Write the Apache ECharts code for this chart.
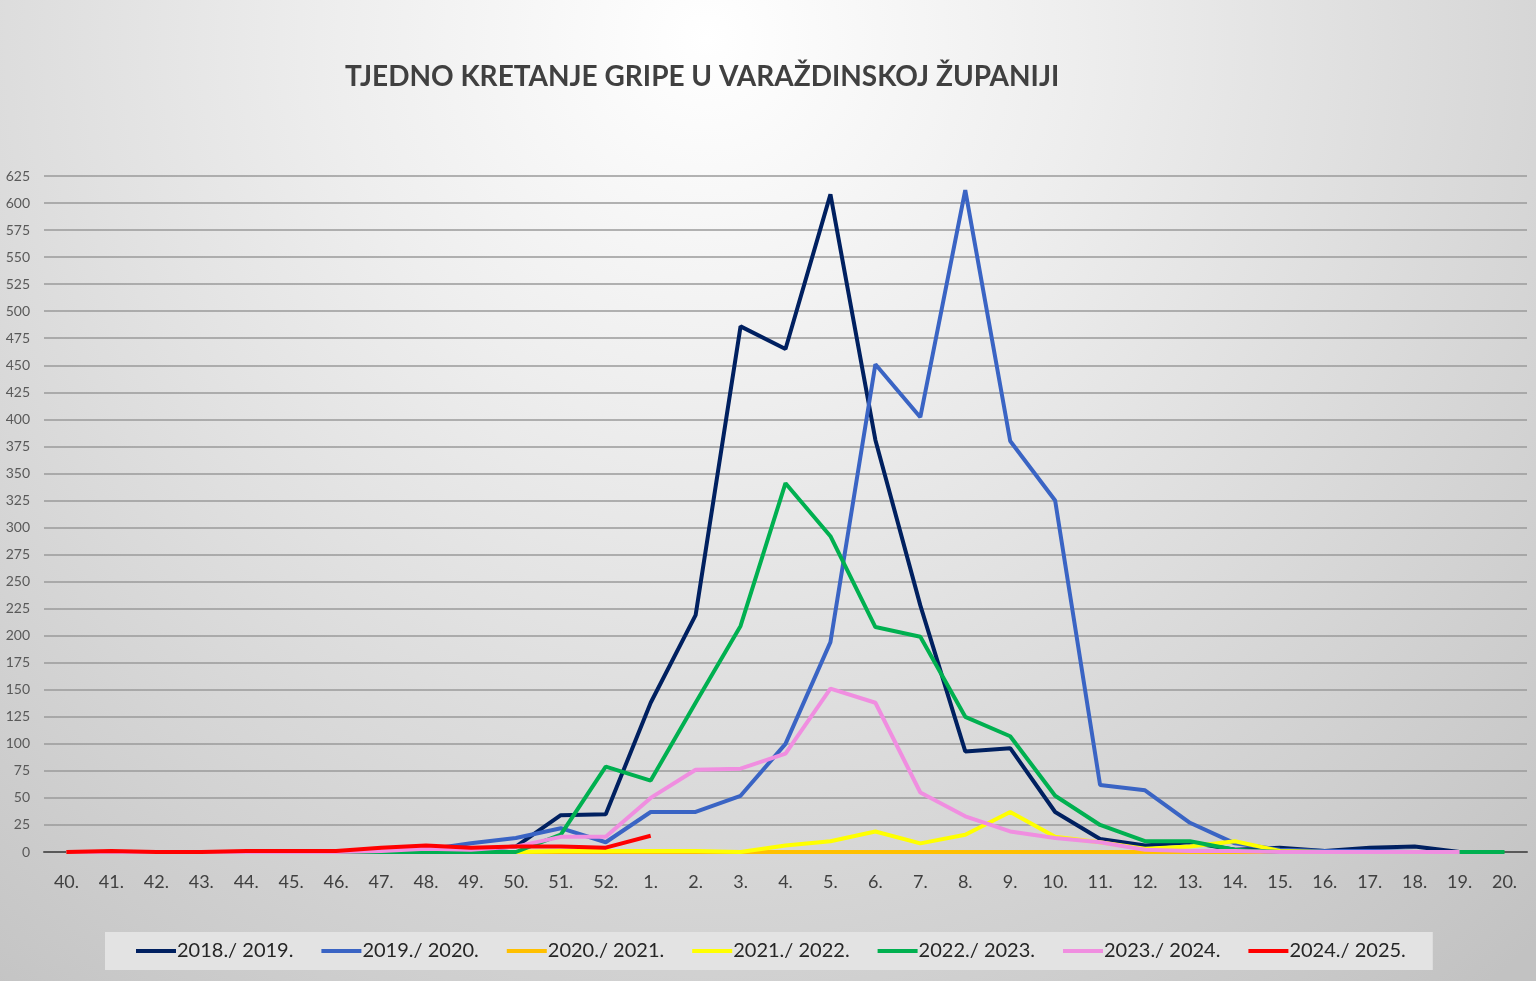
<!DOCTYPE html>
<html>
<head>
<meta charset="utf-8">
<script src="https://cdn.jsdelivr.net/npm/echarts@6/dist/echarts.min.js"></script>
<style>
html,body{margin:0;padding:0;}
#c{width:1536px;height:981px;}
</style>
</head>
<body>
<div id="c"></div>
<script>
const weeks = ['40.','41.','42.','43.','44.','45.','46.','47.','48.','49.','50.','51.','52.',
  '1.','2.','3.','4.','5.','6.','7.','8.','9.','10.','11.','12.','13.','14.','15.','16.','17.','18.','19.','20.'];
const seasonNames = ['2018./ 2019.','2019./ 2020.','2020./ 2021.','2021./ 2022.','2022./ 2023.','2023./ 2024.','2024./ 2025.'];
const s2018 = [0,0,0,0,0,0,0,1,2,2,5,34,35,138,219,486,465,608,381,228,93,96,37,12,6,9,2,4,1,4,5,0];
const s2019 = [0,0,0,0,0,0,0,1,2,8,13,22,9,37,37,52,100,194,451,402,612,380,325,62,57,27,8,2,1,1,0,0];
const s2020 = [0,0,0,0,0,0,0,0,0,0,0,0,0,0,0,0,0,0,0,0,0,0,0,0,0,0,0,0,0,0,0,0];
const s2021 = [0,0,0,0,0,0,0,0,0,0,0,1,1,1,1,0,6,10,19,8,16,37,14,9,3,5,10,1,0,0,0,0];
const s2022 = [0,0,0,0,0,0,0,0,0,0,0,16,79,66,138,209,341,292,208,199,125,107,52,25,10,10,2,0,0,0,0,0,0];
const s2023 = [0,0,0,0,0,0,0,1,3,2,5,14,14,50,76,77,91,151,138,55,33,19,13,9,2,1,1,0,0,0,0,0];
const s2024 = [0,1,0,0,1,1,1,4,6,4,5,5,4,15];
const seriesData = [s2018,s2019,s2020,s2021,s2022,s2023,s2024];
const colors = ['#002060','#3A64C4','#FFC000','#FFFF00','#00B050','#F08EE0','#FF0000'];
const yMin = 0, yMax = 625, yStep = 25;

const chart = echarts.init(document.getElementById('c'));
chart.setOption({
  animation: false,
  backgroundColor: {
    type: 'radial', x: 0.46, y: 0.04, r: 1.25,
    colorStops: [
      {offset: 0, color: '#ffffff'},
      {offset: 0.3, color: '#eeeeee'},
      {offset: 0.65, color: '#d8d8d8'},
      {offset: 1, color: '#c2c2c2'}
    ]
  },
  title: {
    text: 'TJEDNO KRETANJE GRIPE U VARAŽDINSKOJ ŽUPANIJI',
    left: 340, top: 58,
    textStyle: {fontFamily: 'Lato, sans-serif', fontWeight: 'bold', fontSize: 28, color: '#404040'}
  },
  grid: {left: 44, right: 9, top: 176, bottom: 129},
  legend: {
    left: 105, top: 932,
    padding: [9, 27, 9, 31],
    backgroundColor: '#e3e3e3',
    icon: 'rect', itemWidth: 40, itemHeight: 4, itemGap: 28,
    textStyle: {fontFamily: 'Lato, sans-serif', fontSize: 20, color: '#262626', width: 113, padding: [0,0,0,-4]},
    data: seasonNames
  },
  xAxis: {
    type: 'category', data: weeks, boundaryGap: true,
    axisLine: {lineStyle: {color: '#595959', width: 2}},
    axisTick: {show: false},
    axisLabel: {fontFamily: 'Lato, sans-serif', fontSize: 18, color: '#404040', margin: 21, interval: 0}
  },
  yAxis: {
    type: 'value', min: yMin, max: yMax, interval: yStep,
    axisLine: {show: false}, axisTick: {show: false},
    axisLabel: {fontFamily: 'Lato, sans-serif', fontSize: 14, color: '#595959', margin: 14},
    splitLine: {lineStyle: {color: '#9a9a9a', width: 1.5}}
  },
  series: seriesData.map((d, i) => ({
    name: seasonNames[i], type: 'line', data: d,
    showSymbol: false, symbol: 'none',
    lineStyle: {color: colors[i], width: 4},
    itemStyle: {color: colors[i]},
    emphasis: {disabled: true}
  }))
});
</script>
</body>
</html>
